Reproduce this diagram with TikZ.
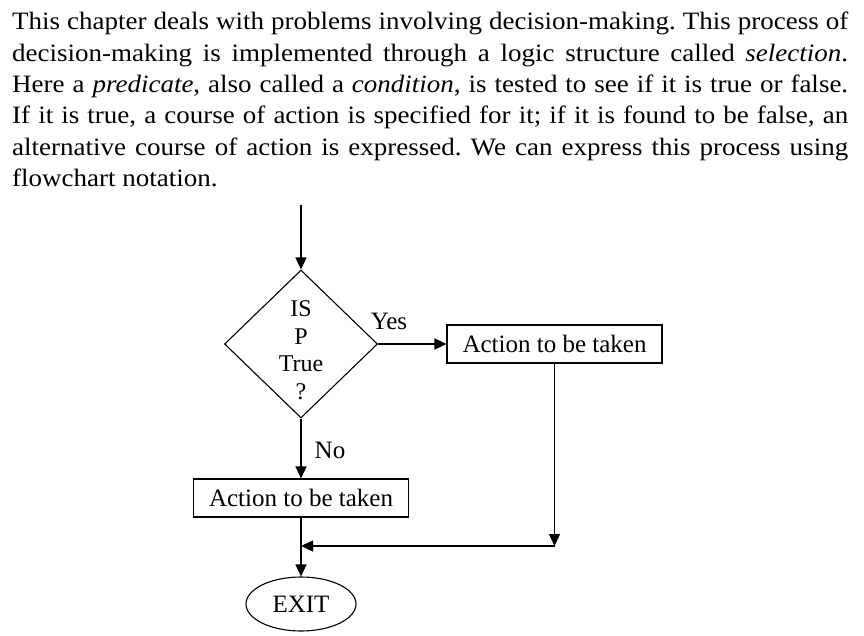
\documentclass[tikz,border=0pt]{standalone}
\usepackage{fontspec}
\setmainfont{Liberation Serif}
\newfontfamily\parafont[FakeStretch=1.08]{Liberation Serif}
\usetikzlibrary{arrows.meta,shapes.geometric}
\frenchspacing
\begin{document}
\begin{tikzpicture}[x=1pt,y=-1pt,
  para/.style={anchor=base west,inner sep=0pt,font=\parafont\fontsize{25}{31.3}\selectfont},
  lbl/.style={inner sep=0pt,font=\fontsize{25}{27.3}\selectfont},
  boxnode/.style={draw,line width=1.1pt,minimum width=215pt,minimum height=38pt,inner sep=0pt,font=\fontsize{25}{27.3}\selectfont},
  decision/.style={draw,diamond,line width=1.1pt,minimum width=153pt,minimum height=148pt,inner sep=0pt},
  dectxt/.style={inner sep=0pt,align=center,font=\fontsize{24}{27.5}\selectfont},
  term/.style={draw,ellipse,line width=1.1pt,minimum width=110pt,minimum height=54pt,inner sep=0pt,font=\fontsize{25}{27.3}\selectfont},
  flow/.style={line width=1.4pt,-{Triangle[length=12pt,width=11pt]}}]
\useasboundingbox (0,0) rectangle (864,636);
\fill[white] (0,0) rectangle (864,636);
% paragraph
\node[para] (l1) at (12,30) {\makebox[836pt][s]{This chapter deals with problems involving decision-making. This process of}};
\node[para] (l2) at (12,61.3) {\makebox[836pt][s]{decision-making is implemented through a logic structure called \textit{selection}.}};
\node[para] (l3) at (12,92.6) {\makebox[836pt][s]{Here a \textit{predicate}, also called a \textit{condition}, is tested to see if it is true or false.}};
\node[para] (l4) at (12,124) {\makebox[836pt][s]{If it is true, a course of action is specified for it; if it is found to be false, an}};
\node[para] (l5) at (12,155.3) {\makebox[836pt][s]{alternative course of action is expressed. We can express this process using}};
\node[para] (l6) at (12,186.6) {flowchart notation.};
% flowchart
\coordinate (start) at (301,205);
\node[decision] (dec) at (301,344) {};
\node[dectxt] (dectext) at (301,350) {IS\\P\\True\\?};
\node[boxnode] (yesbox) at (554.5,344) {Action to be taken};
\node[boxnode] (nobox) at (301,498) {Action to be taken};
\node[term] (exit) at (301,604) {EXIT};
\coordinate (corner) at (yesbox.south |- 0,546);
\coordinate (join) at (nobox.south |- 0,546);
\draw[flow] (start) -- (dec.north);
\draw[flow] (dec.east) -- (yesbox.west);
\draw[flow] (dec.south) -- (nobox.north);
\draw[flow] (yesbox.south) -- (corner);
\draw[flow] (corner) -- (join);
\draw[flow] (nobox.south) -- (exit.north);
\node[lbl] (yes) at (389,321) {Yes};
\node[lbl] (no) at (330,450) {No};
\end{tikzpicture}
\end{document}
